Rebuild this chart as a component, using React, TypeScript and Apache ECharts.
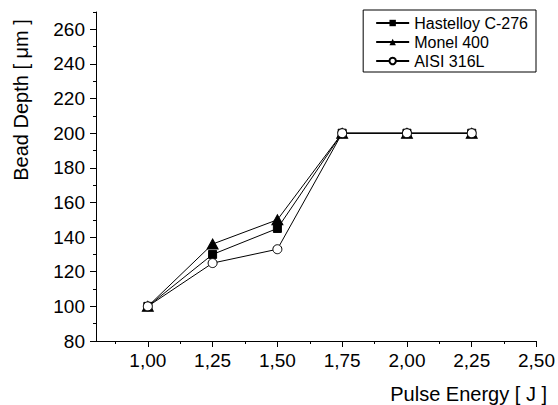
import React, { useEffect, useRef } from "react";
import * as echarts from "echarts";

const energies = [1.0, 1.25, 1.5, 1.75, 2.0, 2.25];
const hastelloy = [100, 130, 145, 200, 200, 200];
const monel = [100, 136, 150, 200, 200, 200];
const aisi = [100, 125, 133, 200, 200, 200];
const seriesNames = ["Hastelloy C-276", "Monel 400", "AISI 316L"];

const xMajorTicks = [1.0, 1.25, 1.5, 1.75, 2.0, 2.25, 2.5];
const xMinorTicks = [0.875, 1.125, 1.375, 1.625, 1.875, 2.125, 2.375];
const yMajorTicks = [80, 100, 120, 140, 160, 180, 200, 220, 240, 260];
const yMinorTicks = [90, 110, 130, 150, 170, 190, 210, 230, 250, 270];

const xTitle = "Pulse Energy [ J ]";
const yTitle = "Bead Depth [ μm ]";

const FONT = "Liberation Sans, Arial, Helvetica, sans-serif";
const X_MIN = 0.8;
const X_MAX = 2.5;
const Y_MIN = 80;
const Y_MAX = 270;

export default function App() {
  const ref = useRef<HTMLDivElement>(null);
  useEffect(() => {
    document.body.style.margin = "0";
    if (!ref.current) return;
    const chart = echarts.init(ref.current, undefined, { renderer: "svg" });
    const pair = (ys: number[]) => energies.map((x, i) => [x, ys[i]]);
    const fmtX = (v: number) => v.toFixed(2).replace(".", ",");
    const base = {
      type: "line",
      xAxisIndex: 0,
      yAxisIndex: 0,
      lineStyle: { color: "#000", width: 1 },
    };
    chart.setOption({
      animation: false,
      backgroundColor: "#fff",
      textStyle: { fontFamily: FONT, color: "#000" },
      grid: { left: 96, right: 20, top: 12, bottom: 64 },
      legend: {
        orient: "vertical",
        right: 22,
        top: 10,
        padding: [5, 8, 3, 12],
        itemGap: 3,
        itemWidth: 33,
        itemHeight: 8,
        borderColor: "#000",
        borderWidth: 1,
        borderRadius: 0,
        textStyle: { fontFamily: FONT, fontSize: 16, color: "#000" },
        data: seriesNames,
      },
      graphic: [
        {
          type: "text",
          x: 547,
          y: 394,
          style: {
            text: xTitle,
            font: `20px ${FONT}`,
            fill: "#000",
            align: "right",
            verticalAlign: "middle",
          },
        },
        {
          type: "text",
          x: 21,
          y: 100,
          rotation: Math.PI / 2,
          style: {
            text: yTitle,
            font: `20px ${FONT}`,
            fill: "#000",
            align: "center",
            verticalAlign: "middle",
          },
        },
      ],
      xAxis: [
        {
          type: "value",
          min: X_MIN,
          max: X_MAX,
          position: "bottom",
          axisLine: { show: true, onZero: false, lineStyle: { color: "#000", width: 1 } },
          axisTick: { show: true, length: 6, customValues: xMajorTicks, lineStyle: { color: "#000" } },
          splitLine: { show: false },
          axisLabel: {
            customValues: xMajorTicks,
            fontFamily: FONT,
            fontSize: 19,
            color: "#000",
            margin: 10,
            formatter: fmtX,
          },
        },
        {
          type: "value",
          min: X_MIN,
          max: X_MAX,
          position: "bottom",
          offset: 0,
          axisLine: { show: false, onZero: false },
          axisTick: { show: true, length: 3, customValues: xMinorTicks, lineStyle: { color: "#000" } },
          splitLine: { show: false },
          axisLabel: { show: false },
        },
      ],
      yAxis: [
        {
          type: "value",
          min: Y_MIN,
          max: Y_MAX,
          position: "left",
          axisLine: { show: true, onZero: false, lineStyle: { color: "#000", width: 1 } },
          axisTick: { show: true, length: 6, customValues: yMajorTicks, lineStyle: { color: "#000" } },
          splitLine: { show: false },
          axisLabel: {
            customValues: yMajorTicks,
            fontFamily: FONT,
            fontSize: 19,
            color: "#000",
            margin: 11,
          },
        },
        {
          type: "value",
          min: Y_MIN,
          max: Y_MAX,
          position: "left",
          offset: 0,
          axisLine: { show: false, onZero: false },
          axisTick: { show: true, length: 3, customValues: yMinorTicks, lineStyle: { color: "#000" } },
          splitLine: { show: false },
          axisLabel: { show: false },
        },
      ],
      series: [
        {
          ...base,
          name: seriesNames[0],
          symbol: "rect",
          symbolSize: 8,
          itemStyle: { color: "#000", borderColor: "#000" },
          data: pair(hastelloy),
          z: 2,
        },
        {
          ...base,
          name: seriesNames[1],
          symbol: "triangle",
          symbolSize: [11, 10],
          itemStyle: { color: "#000", borderColor: "#000" },
          data: pair(monel),
          z: 3,
        },
        {
          ...base,
          name: seriesNames[2],
          symbol: "circle",
          symbolSize: 9,
          itemStyle: { color: "#fff", borderColor: "#000", borderWidth: 1 },
          data: pair(aisi),
          z: 4,
        },
      ],
    });
    return () => chart.dispose();
  }, []);
  return <div ref={ref} style={{ width: 558, height: 405 }} />;
}
